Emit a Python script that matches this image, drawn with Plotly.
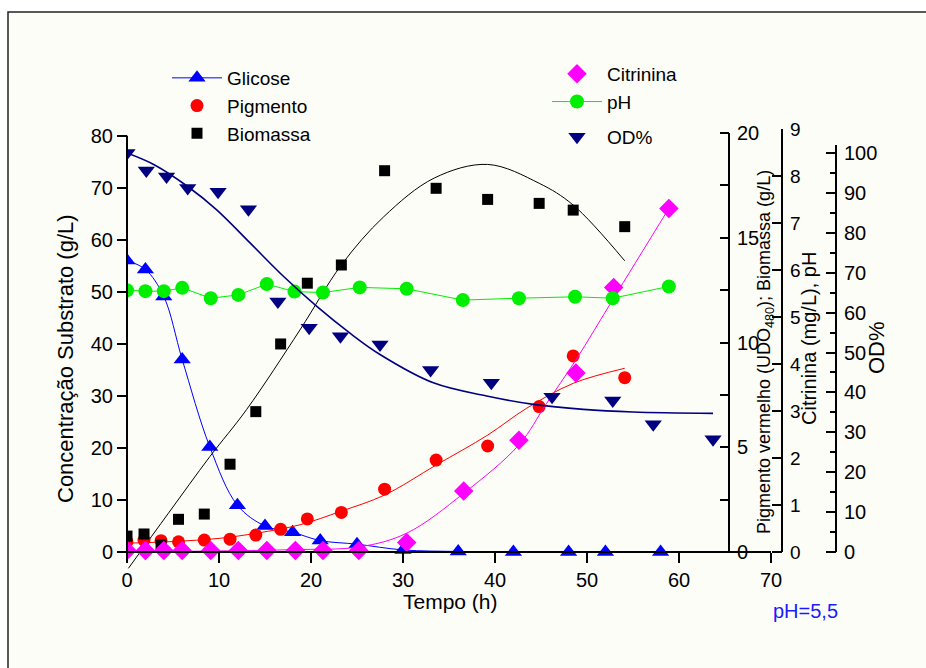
import plotly.graph_objects as go

# ---------------- data ----------------
t_glic = [0, 2, 4, 6, 9, 12, 15, 18, 21, 25, 30, 36, 42, 48, 52, 58]
glicose = [56.0, 54.3, 49.1, 37.0, 20.2, 9.0, 5.0, 3.8, 2.2, 1.5, 0.4, 0.1, 0, 0, 0, 0]

t_ph = [0, 2, 4, 6, 9.1, 12.1, 15.2, 18.2, 21.3, 25.3, 30.4, 36.5, 42.6, 48.7, 52.8, 58.9]
ph = [5.57, 5.55, 5.55, 5.62, 5.40, 5.47, 5.70, 5.54, 5.52, 5.63, 5.60, 5.36, 5.40, 5.43, 5.40, 5.65]

t_bio = [0, 1.85, 3.7, 5.6, 8.4, 11.2, 14.0, 16.7, 19.6, 23.3, 28.0, 33.6, 39.2, 44.8, 48.5, 54.1]
pigmento = [0.49, 0.57, 0.54, 0.49, 0.57, 0.61, 0.81, 1.08, 1.58, 1.89, 3.0, 4.39, 5.06, 6.94, 9.36, 8.32]
biomassa = [0.76, 0.86, 0.33, 1.56, 1.81, 4.19, 6.70, 9.93, 12.83, 13.70, 18.2, 17.36, 16.83, 16.64, 16.32, 15.53]

t_cit = [0, 2, 4, 6, 9.1, 12.1, 15.2, 18.3, 21.3, 25.2, 30.4, 36.6, 42.6, 48.8, 52.9, 58.9]
citrinina = [0.03, 0.03, 0.03, 0.03, 0.03, 0.03, 0.03, 0.03, 0.03, 0.03, 0.2, 1.30, 2.38, 3.81, 5.63, 7.31]

t_od = [0, 2.1, 4.3, 6.6, 9.9, 13.2, 16.4, 19.8, 23.2, 27.5, 33.0, 39.6, 46.2, 52.8, 57.2, 63.7]
od = [100.0, 95.6, 94.1, 91.2, 90.3, 85.9, 62.8, 56.2, 54.1, 52.0, 45.6, 42.4, 38.9, 38.0, 32.0, 28.25]

# fitted curves
t_fit_bio = [0.15, 4.5, 9.0, 13.0, 18.8, 23.3, 27.9, 33.4, 39.2, 44.8, 48.5, 54.1]
fit_bio = [-0.78, 1.85, 4.55, 6.8, 10.6, 13.7, 16.0, 17.85, 18.5, 17.6, 16.56, 13.9]

t_fit_pig = [0, 5, 10, 14.1, 18.8, 23.3, 28.0, 33.6, 39.2, 43.4, 48.5, 54.1]
fit_pig = [0.42, 0.5, 0.65, 0.9, 1.3, 1.95, 2.72, 4.15, 5.58, 6.85, 8.05, 8.77]

t_fit_cit = [0, 9, 18, 25.3, 30.4, 36.6, 42.6, 45.6, 48.8, 52.9, 58.9]
fit_cit = [0.01, 0.02, 0.05, 0.11, 0.40, 1.25, 2.28, 3.16, 4.09, 5.40, 7.31]

t_fit_od = [0, 3, 6.6, 9.75, 13.4, 17.0, 20.6, 24.2, 27.5, 33.3, 39.1, 44.2, 49.6, 55.0, 63.7]
fit_od = [100.0, 97.0, 91.6, 85.75, 77.4, 69.1, 61.6, 54.9, 49.5, 42.4, 39.1, 37.0, 35.75, 35.1, 34.75]

x_ticks = [0, 10, 20, 30, 40, 50, 60, 70]

# ---------------- styling ----------------
FONT = "Liberation Sans, Arial, sans-serif"
BLUE = "#0000FF"
RED = "#FF0000"
MAG = "#FF00FF"
GREEN = "#00EE00"
NAVY = "#000080"

fig = go.Figure()

# fits (no legend)
fig.add_trace(go.Scatter(x=t_fit_bio, y=fit_bio, mode="lines", yaxis="y2",
                         line=dict(color="black", width=1, shape="spline"), showlegend=False, hoverinfo="skip"))
fig.add_trace(go.Scatter(x=t_fit_pig, y=fit_pig, mode="lines", yaxis="y2",
                         line=dict(color=RED, width=1, shape="spline"), showlegend=False, hoverinfo="skip"))
fig.add_trace(go.Scatter(x=t_fit_cit, y=fit_cit, mode="lines", yaxis="y3",
                         line=dict(color=MAG, width=1, shape="spline"), showlegend=False, hoverinfo="skip"))
fig.add_trace(go.Scatter(x=t_fit_od, y=fit_od, mode="lines", yaxis="y4",
                         line=dict(color=NAVY, width=1.6, shape="spline"), showlegend=False, hoverinfo="skip"))

# data series
fig.add_trace(go.Scatter(x=t_glic, y=glicose, name="Glicose", mode="lines+markers", yaxis="y",
                         line=dict(color=BLUE, width=1, shape="spline"),
                         marker=dict(symbol="triangle-up", size=15, color=BLUE), legend="legend"))
fig.add_trace(go.Scatter(x=t_bio, y=pigmento, name="Pigmento", mode="markers", yaxis="y2",
                         marker=dict(symbol="circle", size=13, color=RED), legend="legend"))
fig.add_trace(go.Scatter(x=t_bio, y=biomassa, name="Biomassa", mode="markers", yaxis="y2",
                         marker=dict(symbol="square", size=11, color="black"), legend="legend"))
fig.add_trace(go.Scatter(x=t_cit, y=citrinina, name="Citrinina", mode="markers", yaxis="y3",
                         marker=dict(symbol="diamond", size=15, color=MAG), legend="legend2"))
fig.add_trace(go.Scatter(x=t_ph, y=ph, name="pH", mode="lines+markers", yaxis="y3",
                         line=dict(color=GREEN, width=1),
                         marker=dict(symbol="circle", size=14, color=GREEN), legend="legend2"))
fig.add_trace(go.Scatter(x=t_od, y=od, name="OD%", mode="markers", yaxis="y4",
                         marker=dict(symbol="triangle-down", size=15, color=NAVY), legend="legend3"))

# ---------------- geometry (pixels) ----------------
W, H = 926, 668
L, R = 127, 840          # paper x extent
T, B = 129, 572          # paper y extent
PW, PH = R - L, B - T


def px(x):
    return (x - L) / PW


def py(y):
    return (B - y) / PH


Y0 = 552  # pixel of zero for every y axis
tickfont = dict(family=FONT, size=20, color="black")


def yr(top_val, top_px):
    per = (Y0 - top_px) / top_val
    return [-(B - Y0) / per, (Y0 - T) / per]


fig.update_layout(
    width=W, height=H,
    margin=dict(l=L, r=W - R, t=T, b=H - B, pad=0),
    paper_bgcolor="white",
    plot_bgcolor="rgba(0,0,0,0)",
    font=dict(family=FONT, color="black"),
    xaxis=dict(domain=[0, px(771)], range=[0, 70], anchor="free", position=py(Y0),
               tickvals=x_ticks, ticks="outside", ticklen=10, tickwidth=1.5, tickcolor="black",
               showline=True, linewidth=2, linecolor="black", showgrid=False, zeroline=False,
               tickfont=tickfont),
    yaxis=dict(range=yr(80, 135.7), anchor="free", position=0, side="left",
               tickvals=[0, 10, 20, 30, 40, 50, 60, 70, 80], ticks="outside", ticklen=10,
               showgrid=False, zeroline=False, showline=False, tickcolor="black", tickwidth=1.5,
               tickfont=tickfont),
    yaxis2=dict(range=yr(20, 133), anchor="free", position=px(729), side="right", overlaying="y",
                tickvals=[0, 5, 10, 15, 20], ticks="inside", ticklen=9, ticklabelstandoff=7,
                minor=dict(tickvals=[2.5, 7.5, 12.5, 17.5], ticks="inside", ticklen=9,
                           tickcolor="black", tickwidth=1.5),
                showgrid=False, zeroline=False, showline=False, tickcolor="black", tickwidth=1.5,
                tickfont=tickfont),
    yaxis3=dict(range=yr(9, 129), anchor="free", position=px(782), side="right", overlaying="y",
                tickvals=[0, 1, 2, 3, 4, 5, 6, 7, 8, 9], ticks="inside", ticklen=10, ticklabelstandoff=7,
                showgrid=False, zeroline=False, showline=False, tickcolor="black", tickwidth=1.5,
                tickfont=dict(family=FONT, size=19, color="black")),
    yaxis4=dict(range=yr(100, 153), anchor="free", position=px(836), side="right", overlaying="y",
                tickvals=[0, 10, 20, 30, 40, 50, 60, 70, 80, 90, 100], ticks="inside", ticklen=10,
                ticklabelstandoff=7,
                minor=dict(tickvals=[5, 15, 25, 35, 45, 55, 65, 75, 85, 95], ticks="inside", ticklen=6,
                           tickcolor="black", tickwidth=1.5),
                showgrid=False, zeroline=False, showline=False, tickcolor="black", tickwidth=1.5,
                tickfont=tickfont),
    legend=dict(x=px(167), y=py(59), xanchor="left", yanchor="top", bgcolor="rgba(0,0,0,0)",
                font=dict(family=FONT, size=19, color="black"), itemwidth=50, tracegroupgap=0),
    legend2=dict(x=px(547), y=py(55), xanchor="left", yanchor="top", bgcolor="rgba(0,0,0,0)",
                 font=dict(family=FONT, size=19, color="black"), itemwidth=50, tracegroupgap=0),
    legend3=dict(x=px(547), y=py(118), xanchor="left", yanchor="top", bgcolor="rgba(0,0,0,0)",
                 font=dict(family=FONT, size=19, color="black"), itemwidth=50, tracegroupgap=0),
)

# frame and background panel
fig.add_shape(type="rect", xref="paper", yref="paper", layer="below",
              x0=px(8), x1=px(940), y0=py(690), y1=py(12),
              line=dict(color="#222222", width=1.5), fillcolor="#FDFDF8")

# axis lines drawn over their data extent
axis_lines = [("y", 0, 80, 127), ("y2", 0, 20, 729), ("y3", 0, 9, 782), ("y4", 0, 102, 836)]
for yref, a, b, xpix in axis_lines:
    fig.add_shape(type="line", xref="paper", yref=yref, x0=px(xpix), x1=px(xpix), y0=a, y1=b,
                  line=dict(color="black", width=2))


def title(text, xpix, ypix, size, angle=0, color="black"):
    fig.add_annotation(text=text, xref="paper", yref="paper", x=px(xpix), y=py(ypix),
                       xanchor="center", yanchor="middle", textangle=angle, showarrow=False,
                       font=dict(family=FONT, size=size, color=color))


title("Concentração Substrato (g/L)", 65, 359, 22, -90)
title("Tempo (h)", 450, 601, 21)
title("Pigmento vermelho (UDO<sub>480</sub>); Biomassa (g/L)", 765, 352, 18, -90)
title("Citrinina (mg/L), pH", 809, 339, 20, -90)
title("OD%", 876, 348, 22, -90)
title("pH=5,5", 805, 611, 20, color="#1a1aff")

fig.write_html("out.html", config={"displayModeBar": False},
               post_script="document.body.style.margin='0';document.body.style.overflow='hidden';")
